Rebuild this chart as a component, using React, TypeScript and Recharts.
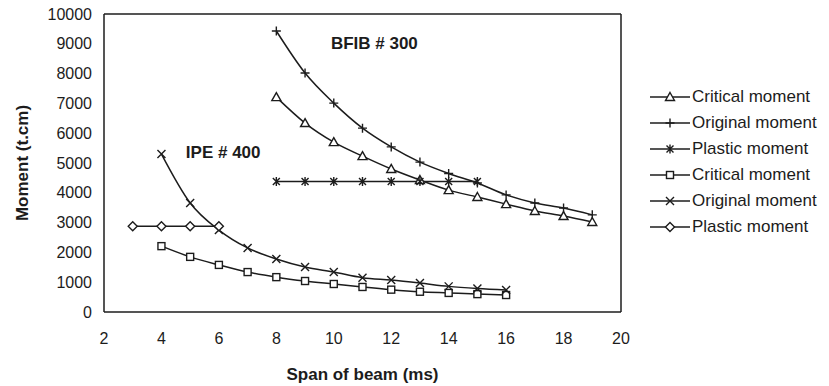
import React from "react";
import { CartesianGrid, Legend, Line, LineChart, ReferenceDot, XAxis, YAxis } from "recharts";

// span of beam (ms) for each group of curves
const ipePlasticSpans = [3, 4, 5, 6];
const ipeSpans = [4, 5, 6, 7, 8, 9, 10, 11, 12, 13, 14, 15, 16];
const bfibSpans = [8, 9, 10, 11, 12, 13, 14, 15, 16, 17, 18, 19];
const bfibPlasticSpans = [8, 9, 10, 11, 12, 13, 14, 15];

// moments (t.cm)
const bfibCritical = [7210, 6340, 5700, 5230, 4800, 4430, 4090, 3860, 3620, 3390, 3220, 3020];
const bfibOriginal = [9430, 8020, 7010, 6170, 5540, 5030, 4650, 4330, 3930, 3660, 3490, 3260];
const bfibPlastic = [4380, 4380, 4380, 4380, 4380, 4380, 4380, 4380];
const ipeCritical = [2210, 1850, 1580, 1340, 1170, 1040, 940, 840, 750, 680, 640, 600, 570];
const ipeOriginal = [5300, 3660, 2750, 2150, 1780, 1510, 1340, 1150, 1070, 970, 860, 790, 740];
const ipePlastic = [2880, 2880, 2880, 2880];

const xTicks = [2, 4, 6, 8, 10, 12, 14, 16, 18, 20];
const yTicks = [0, 1000, 2000, 3000, 4000, 5000, 6000, 7000, 8000, 9000, 10000];

const FONT = "'Liberation Sans', Arial, sans-serif";
const INK = "#1c1c1c";

type MarkerKind = "triangle" | "plus" | "star" | "square" | "cross" | "diamond";

const series: { key: string; name: string; marker: MarkerKind; spans: number[]; values: number[] }[] = [
  { key: "bfibCritical", name: "Critical moment", marker: "triangle", spans: bfibSpans, values: bfibCritical },
  { key: "bfibOriginal", name: "Original moment", marker: "plus", spans: bfibSpans, values: bfibOriginal },
  { key: "bfibPlastic", name: "Plastic moment", marker: "star", spans: bfibPlasticSpans, values: bfibPlastic },
  { key: "ipeCritical", name: "Critical moment", marker: "square", spans: ipeSpans, values: ipeCritical },
  { key: "ipeOriginal", name: "Original moment", marker: "cross", spans: ipeSpans, values: ipeOriginal },
  { key: "ipePlastic", name: "Plastic moment", marker: "diamond", spans: ipePlasticSpans, values: ipePlastic },
];

const allSpans = Array.from(new Set(series.flatMap((s) => s.spans))).sort((a, b) => a - b);
const data = allSpans.map((span) => {
  const row: Record<string, number | null> = { span };
  series.forEach((s) => {
    const i = s.spans.indexOf(span);
    row[s.key] = i >= 0 ? s.values[i] : null;
  });
  return row;
});

const Marker = ({ kind, cx, cy }: { kind: MarkerKind; cx: number; cy: number }) => {
  const p = { stroke: INK, strokeWidth: 1.4, fill: "#fff" };
  switch (kind) {
    case "triangle":
      return <path d={`M${cx},${cy - 4.5}L${cx + 4.5},${cy + 3.5}L${cx - 4.5},${cy + 3.5}Z`} {...p} />;
    case "square":
      return <rect x={cx - 3.5} y={cy - 3.5} width={7} height={7} {...p} />;
    case "diamond":
      return <path d={`M${cx},${cy - 4.5}L${cx + 4.5},${cy}L${cx},${cy + 4.5}L${cx - 4.5},${cy}Z`} {...p} />;
    case "plus":
      return <path d={`M${cx - 4.5},${cy}H${cx + 4.5}M${cx},${cy - 4.5}V${cy + 4.5}`} {...p} fill="none" />;
    case "cross":
      return <path d={`M${cx - 4},${cy - 4}L${cx + 4},${cy + 4}M${cx - 4},${cy + 4}L${cx + 4},${cy - 4}`} {...p} fill="none" />;
    default:
      return (
        <path
          d={`M${cx - 3.5},${cy - 3.5}L${cx + 3.5},${cy + 3.5}M${cx - 3.5},${cy + 3.5}L${cx + 3.5},${cy - 3.5}M${cx},${cy - 4.5}V${cy + 4.5}`}
          {...p}
          fill="none"
        />
      );
  }
};

const renderLegend = () => (
  <div style={{ fontFamily: FONT, fontSize: 17, color: INK }}>
    {series.map((s) => (
      <div key={s.key} style={{ display: "flex", alignItems: "center", height: 26 }}>
        <svg width={44} height={14} style={{ display: "block" }}>
          <line x1={2} y1={7} x2={42} y2={7} stroke={INK} strokeWidth={1.5} />
          <Marker kind={s.marker} cx={22} cy={7} />
        </svg>
        <span style={{ whiteSpace: "nowrap" }}>{s.name}</span>
      </div>
    ))}
  </div>
);

const tickStyle = { fill: INK, fontSize: 16, fontFamily: FONT };
const titleStyle = { fill: INK, fontSize: 17, fontWeight: "bold" as const, fontFamily: FONT };
const frame = { stroke: INK, strokeWidth: 1.5 };

export default function App() {
  return (
    <div style={{ position: "absolute", left: 0, top: 0, width: 829, height: 386, background: "#fff" }}>
      <LineChart width={829} height={386} data={data} margin={{ top: 14, right: 208, left: 0, bottom: 0 }}>
        {/* only the top and right edges of the box */}
        <CartesianGrid stroke={INK} strokeWidth={1.5} horizontalValues={[10000]} verticalValues={[20]} />
        <XAxis
          dataKey="span"
          type="number"
          domain={[2, 20]}
          ticks={xTicks}
          height={74}
          axisLine={frame}
          tickLine={false}
          tickSize={0}
          tickMargin={21}
          tick={tickStyle}
          label={{ value: "Span of beam (ms)", position: "insideBottom", offset: 6, style: titleStyle }}
        />
        <YAxis
          type="number"
          domain={[0, 10000]}
          ticks={yTicks}
          width={104}
          axisLine={frame}
          tickLine={false}
          tickSize={0}
          tickMargin={12}
          tick={tickStyle}
          label={{
            value: "Moment (t.cm)",
            angle: -90,
            position: "insideLeft",
            offset: 22,
            style: { ...titleStyle, textAnchor: "middle" },
          }}
        />
        {series.map((s) => (
          <Line
            key={s.key}
            dataKey={s.key}
            name={s.name}
            type="monotone"
            stroke={INK}
            strokeWidth={1.5}
            isAnimationActive={false}
            dot={(props: any) =>
              props.value == null || props.cy == null ? (
                <g key={`${s.key}-${props.index}`} />
              ) : (
                <Marker key={`${s.key}-${props.index}`} kind={s.marker} cx={props.cx} cy={props.cy} />
              )
            }
            activeDot={false}
          />
        ))}
        <ReferenceDot
          x={9.9}
          y={9030}
          r={0}
          fill="none"
          stroke="none"
          label={{ value: "BFIB # 300", position: "right", offset: 0, style: titleStyle }}
        />
        <ReferenceDot
          x={4.85}
          y={5370}
          r={0}
          fill="none"
          stroke="none"
          label={{ value: "IPE # 400", position: "right", offset: 0, style: titleStyle }}
        />
        <Legend
          layout="horizontal"
          verticalAlign="middle"
          align="center"
          content={renderLegend}
          wrapperStyle={{ left: 648, top: 84, width: 181 }}
        />
      </LineChart>
    </div>
  );
}
